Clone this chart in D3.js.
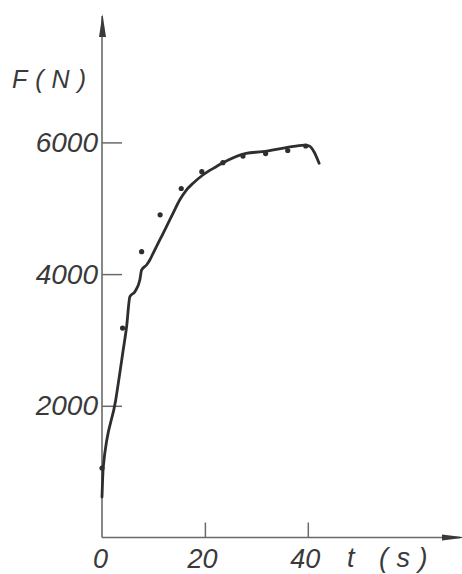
<!DOCTYPE html>
<html>
<head>
<meta charset="utf-8">
<script src="https://cdn.jsdelivr.net/npm/d3@7"></script>
<style>
  html, body { margin: 0; padding: 0; background: #fff; }
  svg { display: block; }
  .lbl { font-family: "Liberation Sans", Arial, sans-serif; font-style: italic; fill: #3a3a3a; }
</style>
</head>
<body>
<svg id="chart" width="462" height="574"></svg>
<script>
// Force F (N) against time t (s): measured curve and sampled points
const curveT = [0, 0.25, 2.65, 4.12, 4.78, 5.42, 6.39, 7.35, 7.69, 8.65, 9.29, 9.93, 11.23, 12.53, 13.8, 15.1, 16.4, 17.7, 19.6, 22.2, 23.5, 28.0, 31.2, 35.8, 39.3, 40.3, 41.2, 42.2];
const curveF = [615, 1071, 2080, 2847, 3201, 3657, 3733, 3910, 4062, 4138, 4214, 4316, 4518, 4720, 4923, 5125, 5277, 5379, 5505, 5631, 5690, 5834, 5859, 5920, 5960, 5945, 5859, 5683];

const pointT = [0, 4.0, 7.7, 11.3, 15.4, 19.4, 23.5, 27.4, 31.8, 36.1, 39.6];
const pointF = [1055, 3180, 4340, 4900, 5300, 5555, 5692, 5793, 5831, 5877, 5945];

const xTicks = [0, 20, 40];
const yTicks = [2000, 4000, 6000];
const xTitle = "t (s)";
const yTitle = "F(N)";

const svg = d3.select("#chart");
const x = d3.scaleLinear().domain([0, 40]).range([102, 307.8]);
const y = d3.scaleLinear().domain([0, 6000]).range([537.5, 142.4]);

const axisColor = "#6a6a6a";
const inkColor = "#2e2e2e";

// Axis lines with arrowheads
svg.append("line").attr("x1", x(0)).attr("x2", x(0)).attr("y1", 16).attr("y2", y(0))
  .attr("stroke", axisColor).attr("stroke-width", 1.6);
svg.append("line").attr("x1", x(0)).attr("x2", 460).attr("y1", y(0)).attr("y2", y(0))
  .attr("stroke", axisColor).attr("stroke-width", 1.6);
svg.append("path")
  .attr("d", `M${x(0) + 0.5},14 L${x(0) - 3},37 L${x(0) + 4},37 Z`)
  .attr("fill", "#3a3a3a");
svg.append("path")
  .attr("d", `M442,${y(0) - 3} L465,${y(0)} L442,${y(0) + 3} Z`)
  .attr("fill", "#3a3a3a");

// Y axis: inward ticks, labels on the left
const yAxis = d3.axisLeft(y).tickValues(yTicks).tickFormat(d3.format("d"))
  .tickSizeInner(-20).tickSizeOuter(0).tickPadding(5);
const gy = svg.append("g").attr("transform", `translate(${x(0)},0)`).call(yAxis);
gy.select(".domain").remove();
gy.selectAll(".tick line").attr("stroke", axisColor).attr("stroke-width", 1.5);
gy.selectAll(".tick text").attr("class", "lbl").attr("font-size", 28).attr("x", -4);

// X axis: upward ticks, labels below
const xAxis = d3.axisBottom(x).tickValues(xTicks).tickFormat(d3.format("d"))
  .tickSizeInner(-15).tickSizeOuter(0).tickPadding(11);
const gx = svg.append("g").attr("transform", `translate(0,${y(0)})`).call(xAxis);
gx.select(".domain").remove();
gx.selectAll(".tick line").attr("stroke", axisColor).attr("stroke-width", 1.5)
  .attr("opacity", d => d === 0 ? 0 : 1);
gx.selectAll(".tick text").attr("class", "lbl").attr("font-size", 27)
  .attr("dx", d => d === 0 ? -2 : -3);

// Axis titles (wide lettering)
svg.append("text").attr("class", "lbl").attr("x", 12).attr("y", 88)
  .attr("font-size", 25).attr("letter-spacing", 8).text(yTitle);
svg.append("text").attr("class", "lbl").attr("x", 347).attr("y", 567)
  .attr("font-size", 27).attr("letter-spacing", 8.5).attr("xml:space", "preserve").text(xTitle);

// Fitted curve
const curveData = curveT.map((t, i) => ({ t, f: curveF[i] }));
const line = d3.line().x(d => x(d.t)).y(d => y(d.f)).curve(d3.curveMonotoneX);
svg.append("path").datum(curveData)
  .attr("d", line)
  .attr("fill", "none").attr("stroke", inkColor).attr("stroke-width", 2.8)
  .attr("stroke-linejoin", "round").attr("stroke-linecap", "round");

// Measured points
const pointData = pointT.map((t, i) => ({ t, f: pointF[i] }));
svg.append("g").selectAll("circle").data(pointData).join("circle")
  .attr("cx", d => x(d.t)).attr("cy", d => y(d.f)).attr("r", 2.6)
  .attr("fill", inkColor);
</script>
</body>
</html>
